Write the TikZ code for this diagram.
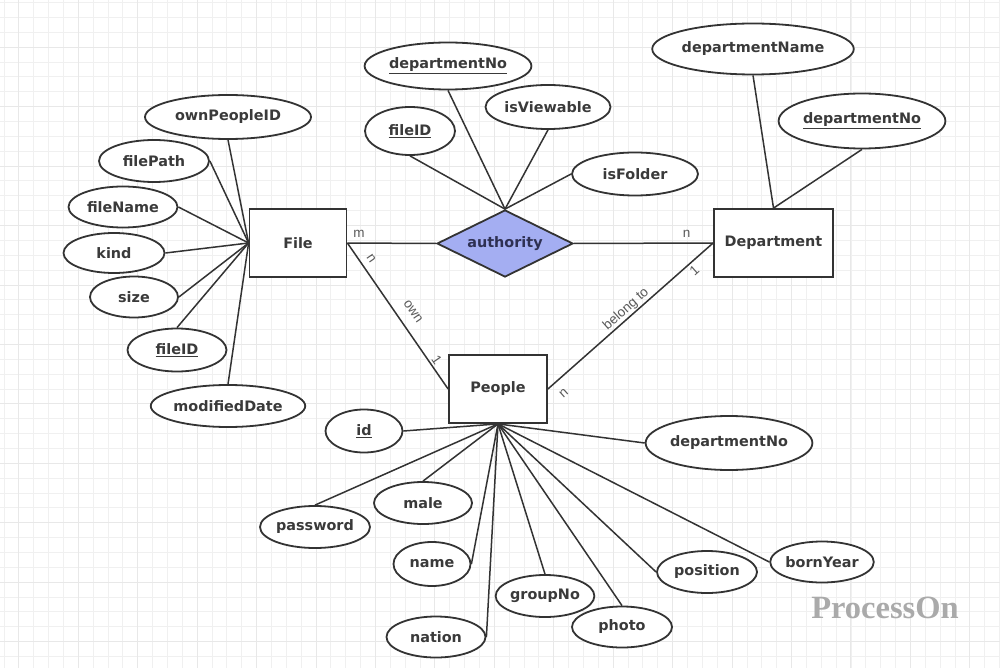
\documentclass[tikz,border=0pt]{standalone}
\usepackage{fontspec}
\setmainfont{DejaVu Sans}
\newfontfamily\labfont{Liberation Sans}
\newfontfamily\wmfont{Liberation Serif}
\usetikzlibrary{shapes.geometric}
\definecolor{ink}{HTML}{333333}
\definecolor{txt}{HTML}{3A3A3A}
\definecolor{labgray}{HTML}{5A5A5A}
\definecolor{relfill}{HTML}{A4AEF2}
\definecolor{reltxt}{HTML}{2E3052}
\definecolor{gminorc}{HTML}{F0F0F0}
\definecolor{gmajorc}{HTML}{E8E8E8}
\definecolor{wmgray}{HTML}{AAAAAA}
\begin{document}
\begin{tikzpicture}[x=1pt,y=-1pt,
  bfont/.style={font=\bfseries\fontsize{14.4}{16}\selectfont},
  attr/.style={ellipse, draw=ink, line width=1.8pt, fill=white, inner sep=0pt, bfont, text=txt},
  ent/.style={rectangle, draw=ink, line width=1.8pt, fill=white, inner sep=0pt, bfont, text=txt},
  rel/.style={diamond, aspect=2, draw=ink, line width=1.8pt, fill=relfill, inner sep=0pt, bfont, text=reltxt},
  conn/.style={draw=ink, line width=1.5pt},
  elab/.style={font=\labfont\fontsize{13.5}{15}\selectfont, text=labgray, inner sep=0pt},
  gminor/.style={draw=gminorc, line width=1pt},
  gmajor/.style={draw=gmajorc, line width=1pt}]
\useasboundingbox (0,0) rectangle (1000,668);
\fill[white] (0,0) rectangle (1000,668);
% grid
\foreach \i in {0,...,67} {\draw[gminor] ({4.0+\i*14.86},0) -- ({4.0+\i*14.86},668);}
\foreach \j in {0,...,45} {\draw[gminor] (0,{2.66+\j*14.86}) -- (1000,{2.66+\j*14.86});}
\foreach \i in {0,...,16} {\draw[gmajor] ({18.9+\i*59.43},0) -- ({18.9+\i*59.43},668);}
\foreach \j in {0,...,10} {\draw[gmajor] (0,{47.3+\j*59.43}) -- (1000,{47.3+\j*59.43});}

% entities and relationship
\node[ent, minimum width=97pt, minimum height=68pt] (file) at (298,243) {File};
\node[rel, minimum width=136pt, minimum height=67pt] (auth) at (505,243.5) {authority};
\node[ent, minimum width=119pt, minimum height=68pt] (dept) at (773.5,243) {Department};
\node[ent, minimum width=98pt, minimum height=68pt] (people) at (498,389) {People};

% File attributes
\node[attr, minimum width=166pt, minimum height=44pt] (fOwner) at (228,117) {ownPeopleID};
\node[attr, minimum width=110pt, minimum height=42pt] (fPath) at (154,161) {filePath};
\node[attr, minimum width=109pt, minimum height=41pt] (fName) at (123,207) {fileName};
\node[attr, minimum width=101pt, minimum height=40pt] (fKind) at (114,253) {kind};
\node[attr, minimum width=88pt, minimum height=41pt] (fSize) at (134,297) {size};
\node[attr, minimum width=99pt, minimum height=43pt] (fID) at (177,350) {\underline{fileID}};
\node[attr, minimum width=149pt, minimum height=42pt] (fDate) at (228,406) {modifiedDate};

% authority attributes
\node[attr, minimum width=150pt, minimum height=47pt] (aDept) at (448,66) {\underline{departmentNo}};
\node[attr, minimum width=90pt, minimum height=48pt] (aFile) at (410,131) {\underline{fileID}};
\node[attr, minimum width=125pt, minimum height=44pt] (aView) at (548,107) {isViewable};
\node[attr, minimum width=126pt, minimum height=43pt] (aFolder) at (635,174) {isFolder};

% Department attributes
\node[attr, minimum width=174pt, minimum height=51pt] (dName) at (753,49) {departmentName};
\node[attr, minimum width=143pt, minimum height=55pt] (dNo) at (862,121) {\underline{departmentNo}};

% People attributes
\node[attr, minimum width=77pt, minimum height=43pt] (pID) at (364,431) {\underline{id}};
\node[attr, minimum width=143pt, minimum height=54pt] (pDept) at (729,443) {departmentNo};
\node[attr, minimum width=98pt, minimum height=42pt] (pMale) at (423,503) {male};
\node[attr, minimum width=108pt, minimum height=42pt] (pPass) at (315,527) {password};
\node[attr, minimum width=77pt, minimum height=44pt] (pName) at (432,564) {name};
\node[attr, minimum width=97pt, minimum height=42pt] (pGroup) at (545,596) {groupNo};
\node[attr, minimum width=99pt, minimum height=41pt] (pNation) at (436,637) {nation};
\node[attr, minimum width=100pt, minimum height=41pt] (pPhoto) at (622,627) {photo};
\node[attr, minimum width=100pt, minimum height=42pt] (pPos) at (707,572) {position};
\node[attr, minimum width=99pt, minimum height=41pt] (pBorn) at (822,562) {bornYear};

% attribute connectors
\draw[conn] (fOwner.south) -- (file.west);
\draw[conn] (fPath.east) -- (file.west);
\draw[conn] (fName.east) -- (file.west);
\draw[conn] (fKind.east) -- (file.west);
\draw[conn] (fSize.east) -- (file.west);
\draw[conn] (fID.north) -- (file.west);
\draw[conn] (fDate.north) -- (file.west);

\draw[conn] (aDept.south) -- (auth.north);
\draw[conn] (aFile.south) -- (auth.north);
\draw[conn] (aView.south) -- (auth.north);
\draw[conn] (aFolder.west) -- (auth.north);

\draw[conn] (dName.south) -- (dept.north);
\draw[conn] (dNo.south) -- (dept.north);

\draw[conn] (pID.east) -- (people.south);
\draw[conn] (pDept.west) -- (people.south);
\draw[conn] (pMale.north) -- (people.south);
\draw[conn] (pPass.north) -- (people.south);
\draw[conn] (pName.east) -- (people.south);
\draw[conn] (pGroup.north) -- (people.south);
\draw[conn] (pNation.east) -- (people.south);
\draw[conn] (pPhoto.north) -- (people.south);
\draw[conn] (pPos.west) -- (people.south);
\draw[conn] (pBorn.west) -- (people.south);

% relationship connectors with labels
\draw[conn] (file.east) -- node[elab, pos=0.13, yshift=9pt] (lm) {m} (auth.west);
\draw[conn] (auth.east) -- node[elab, pos=0.81, yshift=9pt] (ln1) {n} (dept.west);
\draw[conn] (file.east) -- node[elab, pos=0.146, sloped, yshift=11pt] (ln2) {n}
                           node[elab, pos=0.53, sloped, yshift=15pt] (lown) {own}
                           node[elab, pos=0.83, sloped, yshift=7pt] (lone1) {1} (people.west);
\draw[conn] (people.east) -- node[elab, pos=0.04, sloped, yshift=-14pt] (ln3) {n}
                             node[elab, pos=0.506, sloped, yshift=8pt] (lbel) {belong to}
                             node[elab, pos=0.855, sloped, yshift=-8pt] (lone2) {1} (dept.west);

% watermark
\node[font=\wmfont\bfseries\fontsize{32.5}{36}\selectfont, text=wmgray, inner sep=0pt] (wm) at (885,608) {ProcessOn};
\end{tikzpicture}
\end{document}
